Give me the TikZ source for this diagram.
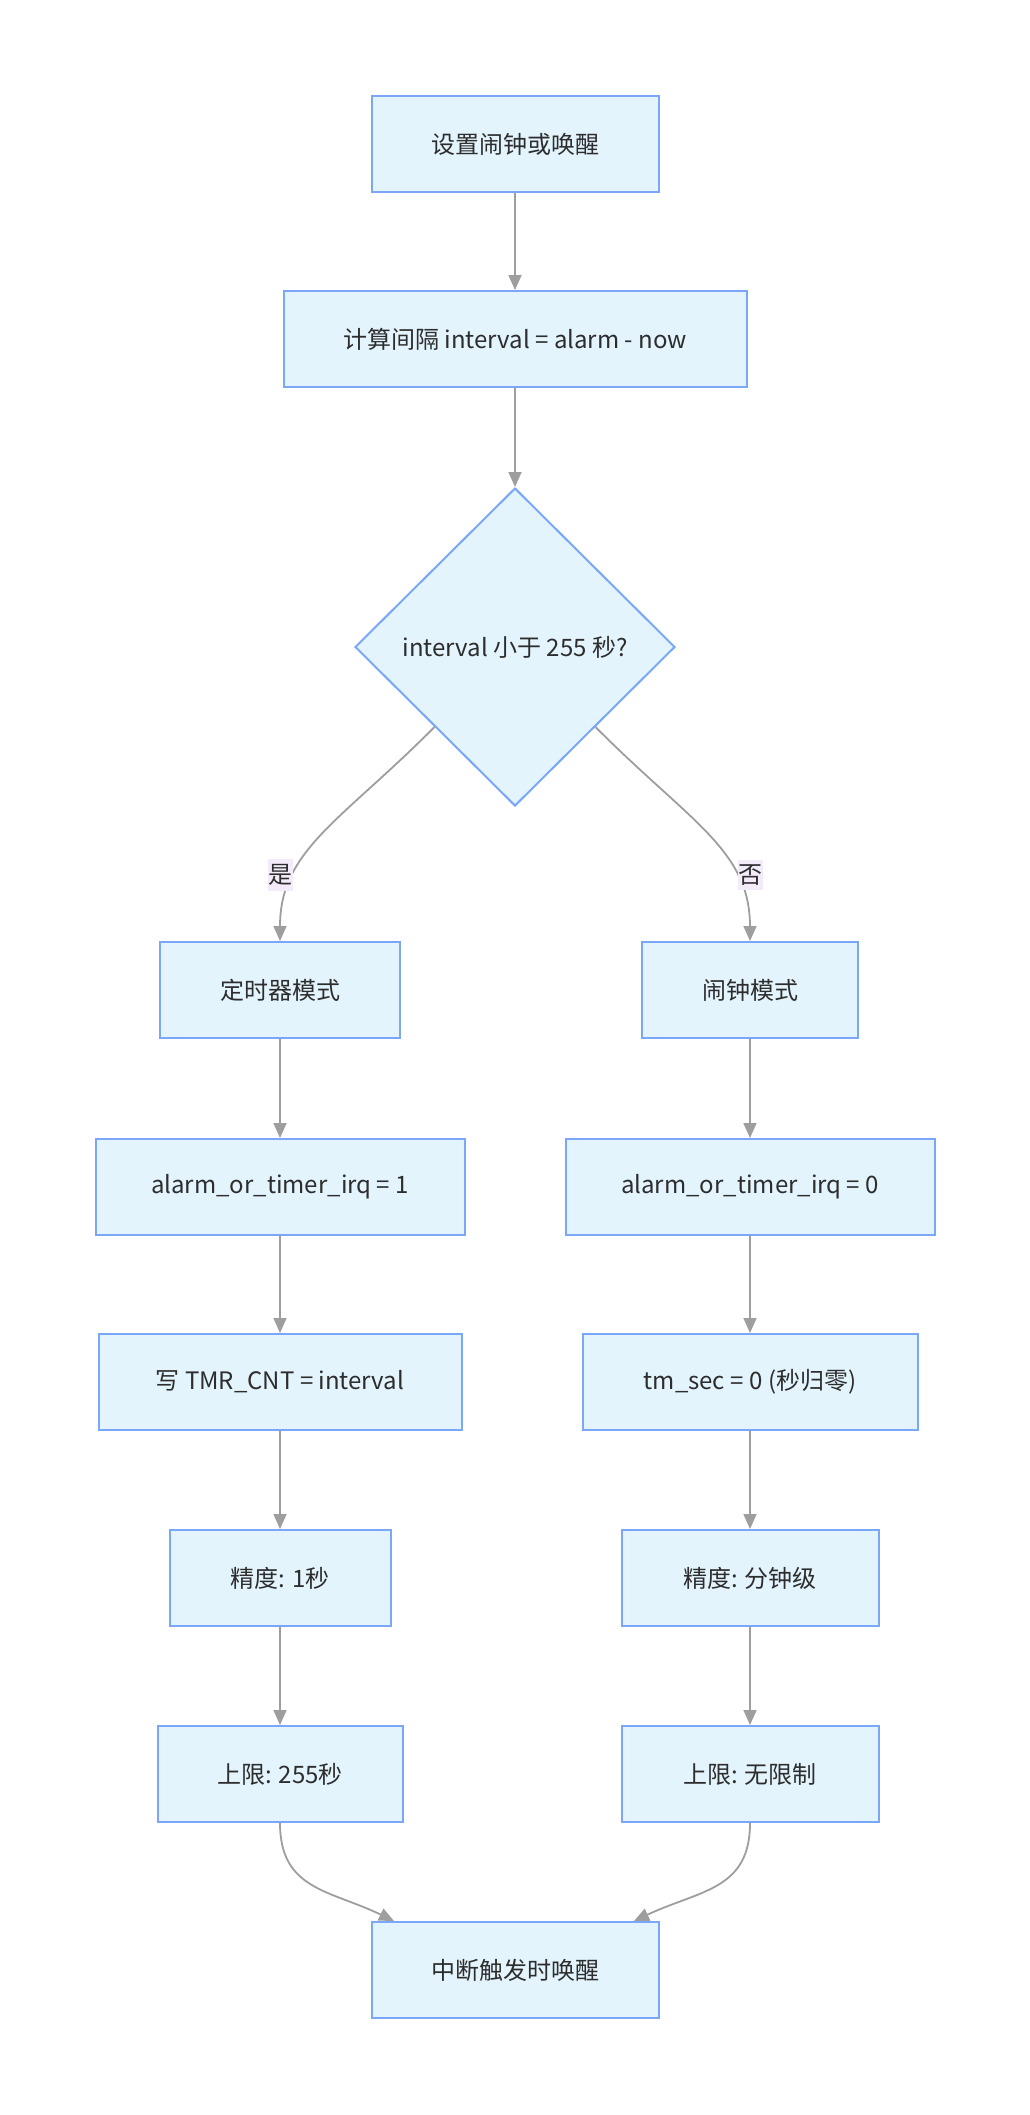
\documentclass[tikz,border=0pt]{standalone}
\usepackage{fontspec}
\setmainfont{Noto Sans CJK SC}
\usetikzlibrary{shapes.geometric,arrows.meta}
\definecolor{boxfill}{RGB}{227,244,253}
\definecolor{boxline}{RGB}{122,167,247}
\definecolor{edgegray}{RGB}{158,158,158}
\definecolor{txt}{RGB}{45,45,45}
\definecolor{lblbg}{RGB}{243,234,250}
\tikzset{
  box/.style={draw=boxline, fill=boxfill, line width=2pt, minimum height=96pt,
    text=txt, font=\fontsize{24}{29}\selectfont, inner sep=0pt},
  dec/.style={diamond, draw=boxline, fill=boxfill, line width=2pt,
    minimum width=320pt, minimum height=318pt, inner sep=0pt,
    text=txt, font=\fontsize{24}{29}\selectfont},
  edge/.style={draw=edgegray, line width=1.8pt, -{Triangle[length=15pt,width=13pt]}},
  lbl/.style={fill=lblbg, text=txt, inner xsep=0.5pt, inner ysep=5pt,
    font=\fontsize{24}{29}\selectfont}
}
\begin{document}
\begin{tikzpicture}[x=1pt,y=-1pt]
\useasboundingbox (0,0) rectangle (1030,2115);
\node[box, minimum width=287pt] (n1) at (515,144) {设置闹钟或唤醒};
\node[box, minimum width=463pt] (n2) at (515,339) {计算间隔 interval = alarm - now};
\node[dec] (d) at (515,647) {interval 小于 255 秒?};
\node[box, minimum width=240pt] (t1) at (280,990) {定时器模式};
\node[box, minimum width=216pt] (a1) at (750,990) {闹钟模式};
\node[box, minimum width=369pt] (t2) at (280,1187) {alarm\_or\_timer\_irq = 1};
\node[box, minimum width=369pt] (a2) at (750,1187) {alarm\_or\_timer\_irq = 0};
\node[box, minimum width=363pt] (t3) at (280,1382) {写 TMR\_CNT = interval};
\node[box, minimum width=335pt] (a3) at (750,1382) {tm\_sec = 0 (秒归零)};
\node[box, minimum width=221pt] (t4) at (280,1578) {精度: 1秒};
\node[box, minimum width=257pt] (a4) at (750,1578) {精度: 分钟级};
\node[box, minimum width=245pt] (t5) at (280,1774) {上限: 255秒};
\node[box, minimum width=257pt] (a5) at (750,1774) {上限: 无限制};
\node[box, minimum width=287pt] (e) at (515,1970) {中断触发时唤醒};

\draw[edge] (n1) -- (n2);
\draw[edge] (n2) -- (d);
\draw[edge] (d.south west) .. controls (340,822) and (280,850) .. (t1.north);
\draw[edge] (d.south east) .. controls (690,822) and (750,850) .. (a1.north);
\draw[edge] (t1) -- (t2);
\draw[edge] (t2) -- (t3);
\draw[edge] (t3) -- (t4);
\draw[edge] (t4) -- (t5);
\draw[edge] (a1) -- (a2);
\draw[edge] (a2) -- (a3);
\draw[edge] (a3) -- (a4);
\draw[edge] (a4) -- (a5);
\draw[edge] (t5.south) .. controls (280,1890) and (330,1890) .. ([xshift=-121pt]e.north);
\draw[edge] (a5.south) .. controls (750,1890) and (700,1890) .. ([xshift=119pt]e.north);
\node[lbl] (ly) at (280,875) {是};
\node[lbl] (ln) at (750,875) {否};
\end{tikzpicture}
\end{document}
